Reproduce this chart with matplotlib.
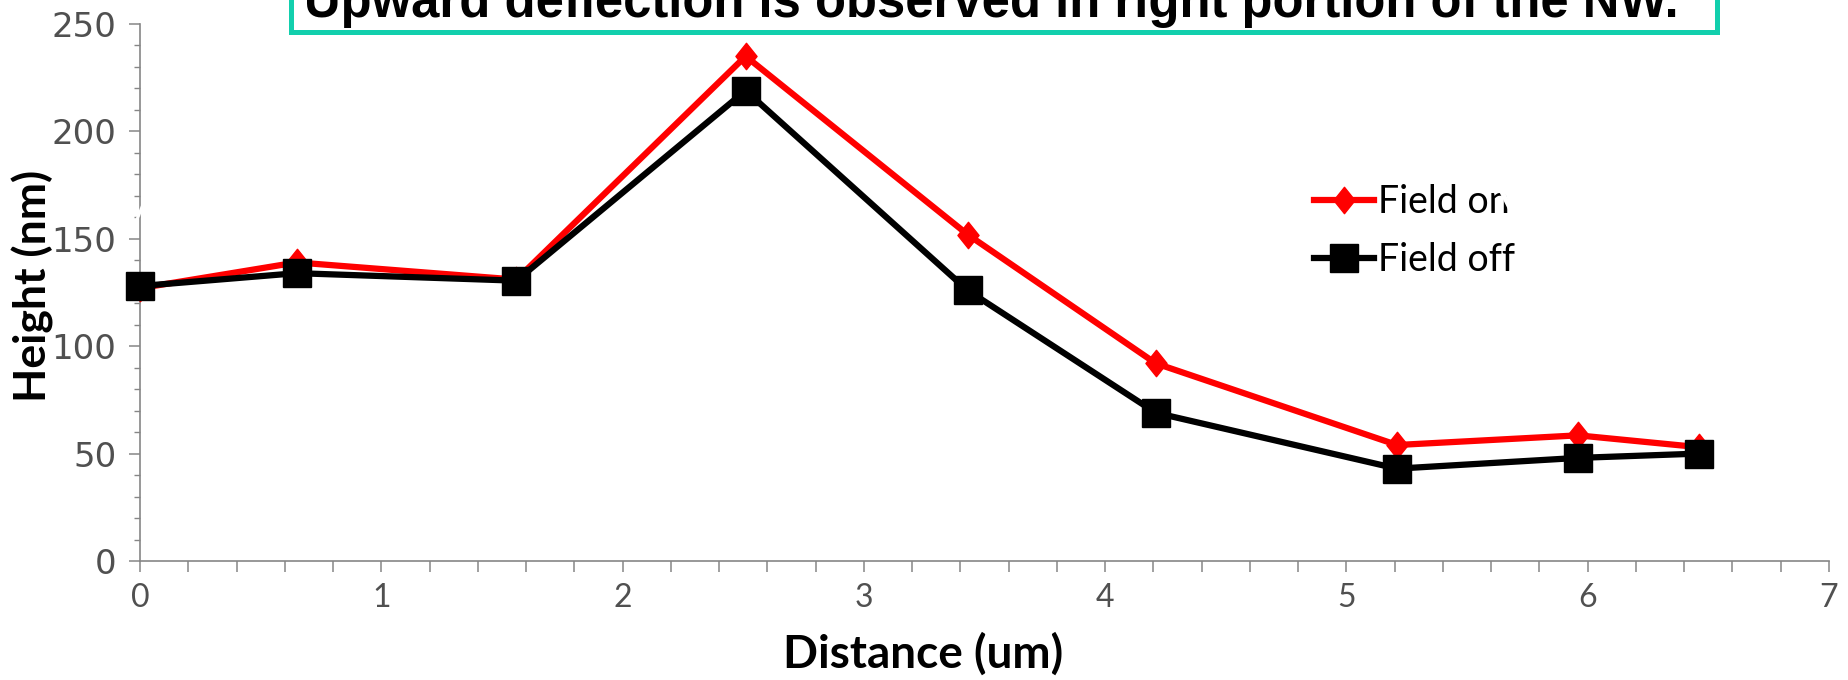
import matplotlib
matplotlib.use("Agg")
import matplotlib.pyplot as plt
from matplotlib.patches import Rectangle
from matplotlib.path import Path
from matplotlib.lines import Line2D
from matplotlib.ticker import MultipleLocator, FixedLocator

# Height profile of the nanowire along its length
distance = [0, 0.65, 1.56, 2.51, 3.43, 4.21, 5.21, 5.96, 6.46]
height_on = [127, 139, 131, 235, 152, 92, 54, 58.5, 53]
height_off = [128, 134, 130.5, 219, 126, 69, 43, 48, 50]
series_labels = ["Field on", "Field off"]
x_ticks = [0, 1, 2, 3, 4, 5, 6, 7]
y_ticks = [0, 50, 100, 150, 200, 250]
headline = "Upward deflection is observed in right portion of the NW."

RED = "#FF0000"
TEAL = "#12CFAD"
AXIS_GREY = "#868686"
LABEL_GREY = "#505050"

fig = plt.figure(figsize=(18.48, 6.8), dpi=100)
fig.patch.set_facecolor("white")

ax = fig.add_axes([140 / 1848, 119 / 680, 1689 / 1848, 537 / 680])
ax.set_facecolor("white")

# slightly tall diamond marker
diamond = Path([(0, 1), (0.8, 0), (0, -1), (-0.8, 0), (0, 1)],
               [Path.MOVETO, Path.LINETO, Path.LINETO, Path.LINETO, Path.CLOSEPOLY])

LW = 4.5
MS_ON = 19
MS_OFF = 19.5
ax.plot(distance, height_on, color=RED, lw=LW, marker=diamond, ms=MS_ON,
        mfc=RED, mec=RED, clip_on=False, zorder=3)
ax.plot(distance, height_off, color="black", lw=LW, marker="s", ms=MS_OFF,
        mfc="black", mec="black", clip_on=False, zorder=4)

ax.set_xlim(x_ticks[0], x_ticks[-1])
ax.set_ylim(y_ticks[0], y_ticks[-1])
ax.xaxis.set_major_locator(FixedLocator(x_ticks))
ax.yaxis.set_major_locator(FixedLocator(y_ticks))
ax.xaxis.set_minor_locator(MultipleLocator(0.2))
ax.yaxis.set_minor_locator(MultipleLocator(10))

for side in ("top", "right"):
    ax.spines[side].set_visible(False)
for side in ("left", "bottom"):
    ax.spines[side].set_color(AXIS_GREY)
    ax.spines[side].set_linewidth(1.2)

ax.tick_params(axis="x", which="both", direction="out", length=8, width=1.1,
               color=AXIS_GREY, pad=8, labelsize=23, labelcolor=LABEL_GREY)
ax.tick_params(axis="y", which="major", direction="out", length=8, width=1.1,
               color=AXIS_GREY, pad=9, labelsize=24.5, labelcolor=LABEL_GREY)
ax.tick_params(axis="y", which="minor", direction="out", length=4, width=1.0,
               color=AXIS_GREY)
for lab in ax.get_xticklabels():
    lab.set_fontfamily("Lato")
for lab in ax.get_yticklabels():
    lab.set_fontfamily("DejaVu Sans")

fig.text(33 / 1848, 1 - 286 / 680, "Height (nm)", rotation=90, ha="center",
         va="center", fontsize=32, fontweight="bold", family="Lato", color="black")
fig.text(923 / 1848, 1 - 654 / 680, "Distance (um)", ha="center", va="center",
         fontsize=33, fontweight="bold", family="Lato", color="black")

handles = [
    Line2D([], [], color=RED, lw=LW, marker=diamond, ms=MS_ON, mfc=RED, mec=RED),
    Line2D([], [], color="black", lw=LW, marker="s", ms=MS_OFF, mfc="black", mec="black"),
]
fig.legend(handles, series_labels, loc="upper left",
           bbox_to_anchor=(1314 / 1848, 1 - 184 / 680), frameon=False,
           prop={"family": "Lato", "size": 27}, handlelength=1.6,
           handletextpad=0.1, labelspacing=0.6, borderpad=0, borderaxespad=0,
           numpoints=1)

# headline banner across the top
banner = Rectangle((291 / 1848, 1 - 32 / 680), (1717 - 291) / 1848, 0.2,
                   transform=fig.transFigure, facecolor="white", edgecolor=TEAL,
                   lw=3.6, zorder=10, clip_on=False)
fig.patches.append(banner)
fig.text(991 / 1848, 1 - 17 / 680, headline, ha="center", va="baseline",
         fontsize=36.5, fontweight="bold",
         family=["Liberation Sans Narrow", "Liberation Sans"], color="black",
         zorder=11)

# thin white streaks crossing the axis and the legend text
fig.add_artist(Line2D([200 / 1848, 132 / 1848], [1 - 62 / 680, 1 - 232 / 680],
                      transform=fig.transFigure, color="white", lw=2.2, zorder=20))
fig.add_artist(Line2D([1498 / 1848, 1518 / 1848], [1 - 184 / 680, 1 - 224 / 680],
                      transform=fig.transFigure, color="white", lw=3.5, zorder=20))

fig.savefig("out.png", dpi=100, facecolor="white")
